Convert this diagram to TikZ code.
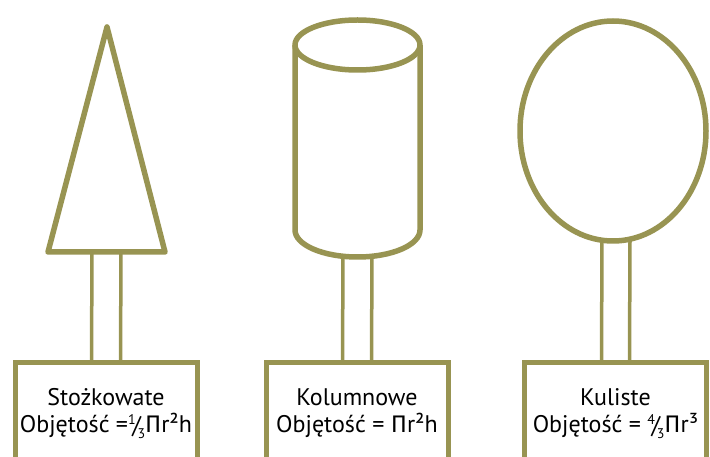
\documentclass[tikz,border=0pt]{standalone}
\usepackage{fontspec}
\setmainfont{PT Sans}
\newfontfamily\pifont{Fira Sans}
\usetikzlibrary{positioning, calc}
\usepackage{xcolor}
\definecolor{treegreen}{RGB}{152,148,82}
\newcommand{\slfrac}[2]{\raisebox{.6ex}{\fontsize{14}{14}\selectfont#1}\kern-.14em\raisebox{-.15ex}{/}\kern-.14em\raisebox{-.5ex}{\fontsize{14}{14}\selectfont#2}}
\newcommand{\bigpi}{{\pifont Π}}

\begin{document}
\begin{tikzpicture}[
    x=1pt, y=-1pt,
    crown/.style={
        draw=treegreen, line width=5.5pt, line join=round
    },
    trunk/.style={
        draw=treegreen, line width=3.5pt
    },
    tag/.style={
        rectangle, draw=treegreen, line width=5pt, minimum width=182pt, minimum height=110pt,
        inner sep=0pt, anchor=north
    },
    tagtext/.style={
        anchor=base, inner sep=0pt, font=\fontsize{24}{27}\selectfont
    }
]
    \useasboundingbox (0,0) rectangle (710,457);
    \clip (0,0) rectangle (710,457);

    % --- korony ---
    \draw [crown] (107,27) -- (165,252) -- (48,252) -- cycle;
    \coordinate (cone base) at (106.5,252);

    \draw [crown] (357.5,45) ellipse [x radius=62.5, y radius=25];
    \draw [crown] (295,45) -- (295,230) arc [start angle=180, end angle=0, x radius=62.5, y radius=27] -- (420,45);
    \coordinate (column base) at (357.5,257);

    \draw [crown] (613,131) ellipse [x radius=93, y radius=110];
    \coordinate (sphere base) at (616,241);

    % --- tabliczki ---
    \node [tag] (cone box) at (106,360) {};
    \node [tag] (column box) at (357,360) {};
    \node [tag] (sphere box) at (615.5,360) {};

    \node [tagtext] (cone name) at (106,405) {Stożkowate};
    \node [tagtext] (cone formula) at (106,432) {Objętość =\slfrac13\bigpi r²h};
    \node [tagtext] (column name) at (357,405) {Kolumnowe};
    \node [tagtext] (column formula) at (357,432) {Objętość = \bigpi r²h};
    \node [tagtext] (sphere name) at (615.5,405) {Kuliste};
    \node [tagtext] (sphere formula) at (615.5,432) {Objętość = \slfrac43\bigpi r³};

    % --- pnie ---
    \draw [trunk] ([xshift=-14.5pt]cone base) -- ([xshift=-14.5pt]cone box.north);
    \draw [trunk] ([xshift=14.5pt]cone base) -- ([xshift=14.5pt]cone box.north);
    \draw [trunk] ([xshift=-14.5pt]column base) -- ([xshift=-14.5pt]column box.north);
    \draw [trunk] ([xshift=14.5pt]column base) -- ([xshift=14.5pt]column box.north);
    \draw [trunk] ([xshift=-14pt]sphere base) -- ([xshift=-14pt]sphere box.north);
    \draw [trunk] ([xshift=14pt]sphere base) -- ([xshift=14pt]sphere box.north);

\end{tikzpicture}
\end{document}
